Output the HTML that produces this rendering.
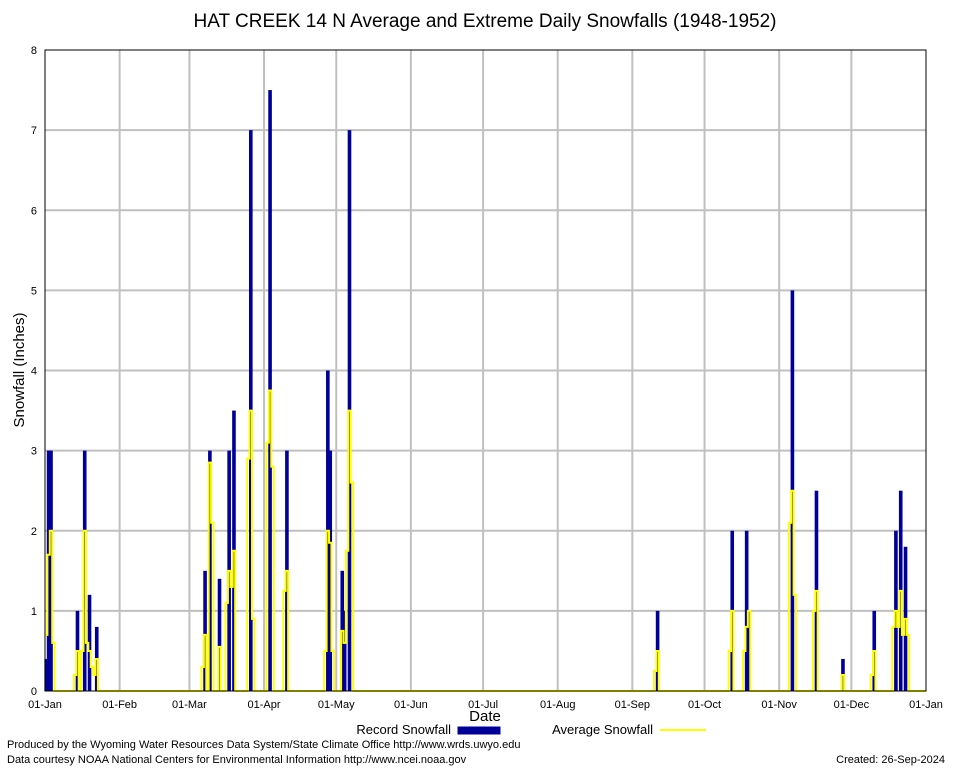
<!DOCTYPE html>
<html><head><meta charset="utf-8"><style>
body{margin:0;background:#fff;font-family:"Liberation Sans",sans-serif}
svg text{font-family:"Liberation Sans",sans-serif}
</style></head><body>
<svg id="c" width="954" height="768">
<rect x="0" y="0" width="954" height="768" fill="#fff"/>
<g id="grid"></g>
<g id="bars"></g>
<g id="avg"></g>
<g id="axes"></g>
<text x="485" y="27" font-size="19" text-anchor="middle">HAT CREEK 14 N Average and Extreme Daily Snowfalls (1948-1952)</text>
<text x="24" y="370" font-size="15" text-anchor="middle" transform="rotate(-90 24 370)">Snowfall (Inches)</text>
<text x="485" y="721" font-size="15" text-anchor="middle">Date</text>
<g>
<text x="451" y="734" font-size="13" text-anchor="end">Record Snowfall</text>
<rect x="458" y="727" width="42" height="7" fill="#000099" stroke="#000099"/>
<text x="653" y="734" font-size="13" text-anchor="end">Average Snowfall</text>
<line x1="660" y1="730" x2="706" y2="730" stroke="#ffff00" stroke-width="2"/>
</g>
<text x="7" y="748" font-size="11">Produced by the Wyoming Water Resources Data System/State Climate Office http://www.wrds.uwyo.edu</text>
<text x="7" y="763" font-size="11">Data courtesy NOAA National Centers for Environmental Information http://www.ncei.noaa.gov</text>
<text x="945" y="763" font-size="11" text-anchor="end">Created:  26-Sep-2024</text>
</svg>
<script>
const monthLabels=["01-Jan","01-Feb","01-Mar","01-Apr","01-May","01-Jun","01-Jul","01-Aug","01-Sep","01-Oct","01-Nov","01-Dec","01-Jan"];
const monthStarts=[0,31,60,91,121,152,182,213,244,274,305,335,366];
const yTicks=[0,1,2,3,4,5,6,7,8];
const recordDays=[0,1,2,13,16,18,21,66,68,72,76,78,85,93,100,117,118,123,124,126,254,285,291,292,310,320,331,344,353,355,357];
const recordVals=[0.4,3,3,1,3,1.2,0.8,1.5,3,1.4,3,3.5,7,7.5,3,4,3,1.5,1,7,1,2,2,1,5,2.5,0.4,1,2,2.5,1.8];
const avgDays=[0,1,2,3,12,13,15,16,17,18,19,20,21,65,66,68,69,72,75,76,77,78,84,85,86,92,93,94,99,100,116,117,118,119,123,124,125,126,127,253,254,284,285,290,291,292,309,310,311,319,320,331,343,344,352,353,354,355,356,357,358];
const avgVals=[0.7,1.7,2.0,0.6,0.2,0.5,0.5,2.0,0.6,0.5,0.3,0.2,0.4,0.3,0.7,2.85,2.1,0.55,1.1,1.5,1.3,1.75,2.9,3.5,0.9,3.1,3.75,2.8,1.25,1.5,0.5,2.0,1.85,0.5,0.75,0.6,1.75,3.5,2.6,0.25,0.5,0.5,1.0,0.5,0.8,1.0,2.1,2.5,1.2,1.0,1.25,0.2,0.2,0.5,0.8,1.0,0.8,1.25,0.7,0.9,0.7];
const NS="http://www.w3.org/2000/svg";
const X0=45,X1=926,Y0=691,Y1=50,YMAX=8,NDAYS=366;
function xs(d){return X0+d*(X1-X0)/NDAYS;}
function ys(v){return Y0-v*(Y0-Y1)/YMAX;}
function mk(tag,attrs,parent){const e=document.createElementNS(NS,tag);for(const k in attrs)e.setAttribute(k,attrs[k]);parent.appendChild(e);return e;}
const grid=document.getElementById('grid'),bars=document.getElementById('bars'),avg=document.getElementById('avg'),axes=document.getElementById('axes');
yTicks.forEach((t,i)=>{
  if(t>0&&t<YMAX){const g=mk('line',{x1:X0,x2:X1,y1:ys(t),y2:ys(t),stroke:'#c0c0c0','stroke-width':2},grid);
  
  }
  const l=mk('text',{x:X0-8,y:ys(t)+4,'font-size':11,'text-anchor':'end'},axes);l.textContent=t;
  
  
});
monthStarts.forEach((d,i)=>{
  if(i>0&&i<monthStarts.length-1){const g=mk('line',{x1:xs(d),x2:xs(d),y1:Y1,y2:Y0,stroke:'#c0c0c0','stroke-width':2},grid);
  
  }
  const l=mk('text',{x:xs(d),y:Y0+17,'font-size':11,'text-anchor':'middle'},axes);l.textContent=monthLabels[i];
  
  
});
recordDays.forEach((d,i)=>{
  const r=mk('rect',{x:xs(d-0.25),y:ys(recordVals[i]),width:xs(d+1.25)-xs(d-0.25),height:Y0-ys(recordVals[i]),fill:'#000099'},bars);
  
  
});
let pts=[];const m={};avgDays.forEach((d,i)=>m[d]=avgVals[i]);
for(let d=0;d<NDAYS;d++){const v=m[d]||0;pts.push(xs(d)+','+ys(v));pts.push(xs(d+1)+','+ys(v));}
const pl=mk('polyline',{points:pts.join(' '),fill:'none',stroke:'#ffff00','stroke-width':2},avg);


const fr=mk('rect',{x:X0,y:Y1,width:X1-X0,height:Y0-Y1,fill:'none',stroke:'#000','stroke-width':1},axes);


</script>
</body></html>
